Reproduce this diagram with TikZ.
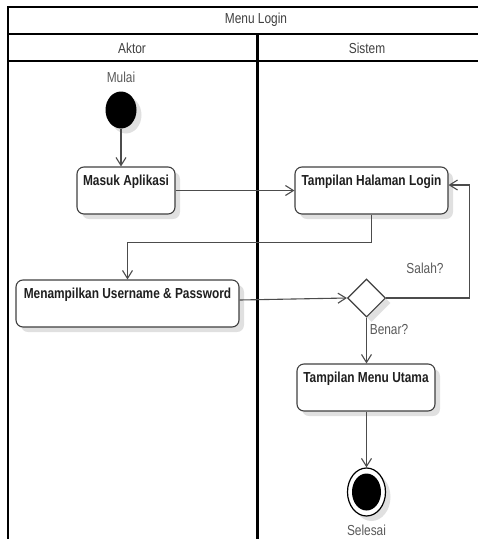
\documentclass[tikz,border=0pt]{standalone}
\usepackage{fontspec}
\setmainfont{Liberation Sans}[FakeStretch=0.82]
\usetikzlibrary{arrows.meta,shapes.geometric,shadows,calc}
\begin{document}
\begin{tikzpicture}[x=1pt,y=-1pt,
  font=\fontsize{14.5}{17}\selectfont,
  conn/.style={draw=black!70, line width=1.1pt, -{Straight Barb[length=8pt,width=10pt]}},
  shad/.style={drop shadow={shadow xshift=5pt, shadow yshift=-5pt, fill=black!12, opacity=1}},
  act/.style={draw=black!75, line width=1.1pt, fill=white, rounded corners=7pt,
    minimum height=47pt, text height=10pt, text depth=21pt, inner ysep=8pt, inner xsep=3pt,
    font=\fontsize{14.5}{17}\selectfont\bfseries, text=black!88, shad},
  lbl/.style={text=black!65, inner sep=0pt},
  hdr/.style={text=black!75, inner sep=0pt}
]
\useasboundingbox (0,0) rectangle (478,539);
% frame
\draw[line width=1.3pt] (8,539) -- (8,7) -- (478,7);
\draw[line width=2pt] (8,34) -- (478,34);
\draw[line width=2pt] (8,61) -- (478,61);
\draw[line width=3pt] (257,34) -- (257,539);
\node[hdr] (title) at (256,20) {Menu Login};
\node[hdr] (aktor) at (132,48) {Aktor};
\node[hdr] (sistem) at (367,48) {Sistem};
% nodes
\node[lbl] (Lmulai) at (121,77) {Mulai};
\node[ellipse, fill=black, minimum width=31pt, minimum height=37pt, inner sep=0pt, shad] (S) at (121,110) {};
\node[act, minimum width=98pt] (MA) at (126,190.5) {Masuk Aplikasi};
\node[act, minimum width=153pt] (THL) at (371.5,190.5) {Tampilan Halaman Login};
\node[act, minimum width=223pt] (MUP) at (127.5,303.5) {Menampilkan Username \& Password};
\node[diamond, aspect=1, draw=black!75, line width=1.1pt, fill=white, minimum width=38pt, minimum height=38pt, inner sep=0pt, shad] (D) at (366.5,298) {};
\node[act, minimum width=138pt] (MU) at (366,387.5) {Tampilan Menu Utama};
\node[ellipse, draw=black, line width=1.2pt, fill=white, minimum width=38pt, minimum height=48pt, inner sep=0pt, shad] (E) at (366.5,492) {};
\node[ellipse, fill=black, minimum width=29pt, minimum height=37pt, inner sep=0pt] (Ei) at (E.center) {};
\node[lbl] (Lsel) at (366.5,530) {Selesai};
\node[lbl] (Lsalah) at (425,268) {Salah?};
\node[lbl] (Lbenar) at (389,330) {Benar?};
% connectors
\draw[conn] (S) -- (MA.north -| S);
\draw[conn] (MA) -- (THL);
\draw[conn] (THL.south) -- ++(0,28) -| (MUP.north);
\draw[conn] ([yshift=3.5pt]MUP.east) -- (D.west);
\draw[conn] (D.east) -- ++(83,0) |- ([yshift=5.5pt]THL.east);
\draw[conn] (D.south) -- (D.south |- MU.north);
\draw[conn] (MU.south -| E.north) -- (E.north);
\end{tikzpicture}
\end{document}
